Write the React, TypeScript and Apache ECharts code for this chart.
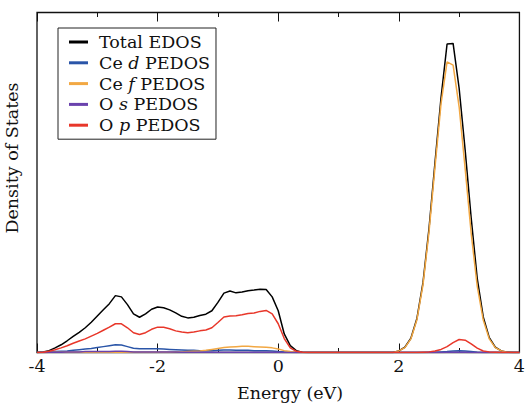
import React, { useEffect, useRef } from "react";
import * as echarts from "echarts";

// Energy grid (eV), sampled every 0.1 eV from -4 to 4
const energies: number[] = Array.from({ length: 81 }, (_, i) => +(-4 + i * 0.1).toFixed(1));

const zeros14 = [0, 0, 0, 0, 0, 0, 0, 0, 0, 0, 0, 0, 0, 0];

const totalEdos: number[] = [
  0, 0.02, 0.06, 0.15, 0.25, 0.38, 0.52, 0.65, 0.8, 0.98,
  1.18, 1.38, 1.58, 1.84, 1.8, 1.55, 1.25, 1.14, 1.25, 1.4,
  1.47, 1.45, 1.38, 1.28, 1.17, 1.12, 1.14, 1.2, 1.24, 1.35,
  1.62, 1.92, 1.99, 1.93, 1.96, 2.0, 2.02, 2.05, 2.04, 1.8,
  1.35, 0.6, 0.22, 0.06, 0.01, 0,
  ...zeros14,
  0.05, 0.17, 0.46, 1.1, 2.25, 4.0, 6.15, 8.25, 9.98, 10.0,
  8.55, 6.55, 4.35, 2.4, 1.15, 0.48, 0.17, 0.05, 0.01, 0, 0,
];

const ceD: number[] = [
  0, 0.01, 0.02, 0.03, 0.04, 0.05, 0.07, 0.09, 0.11, 0.13,
  0.16, 0.19, 0.22, 0.25, 0.24, 0.19, 0.14, 0.12, 0.12, 0.12,
  0.12, 0.11, 0.1, 0.09, 0.08, 0.07, 0.07, 0.06, 0.06, 0.06,
  0.07, 0.08, 0.08, 0.07, 0.07, 0.07, 0.06, 0.06, 0.06, 0.05,
  0.03, 0.02, 0.01, 0, 0, 0,
  ...zeros14,
  0, 0, 0, 0, 0, 0.01, 0.01, 0.02, 0.03, 0.05,
  0.06, 0.05, 0.03, 0.01, 0, 0, 0, 0, 0, 0, 0,
];

const ceF: number[] = [
  0, 0, 0.01, 0.01, 0.01, 0.01, 0.01, 0.01, 0.01, 0.01,
  0.01, 0.01, 0.01, 0.01, 0.01, 0.01, 0.01, 0.01, 0.01, 0.01,
  0.01, 0.01, 0.01, 0.02, 0.02, 0.03, 0.04, 0.05, 0.07, 0.1,
  0.13, 0.16, 0.18, 0.19, 0.2, 0.2, 0.19, 0.18, 0.17, 0.15,
  0.11, 0.06, 0.03, 0.01, 0, 0,
  ...zeros14,
  0.05, 0.16, 0.44, 1.06, 2.18, 3.89, 6.0, 8.05, 9.4, 9.3,
  7.95, 5.95, 3.85, 2.15, 1.05, 0.44, 0.16, 0.05, 0.01, 0, 0,
];

const oS: number[] = [
  0, 0, 0.01, 0.01, 0.01, 0.02, 0.02, 0.02, 0.03, 0.03,
  0.03, 0.03, 0.03, 0.04, 0.04, 0.03, 0.02, 0.02, 0.02, 0.02,
  0.02, 0.02, 0.02, 0.02, 0.01, 0.01, 0.01, 0.01, 0.01, 0.01,
  0.01, 0.01, 0.01, 0.01, 0.01, 0.01, 0.01, 0.01, 0.01, 0.01,
  0.01, 0, 0, 0, 0, 0,
  ...zeros14,
  0, 0, 0, 0, 0, 0, 0, 0, 0.01, 0.01,
  0.01, 0.01, 0, 0, 0, 0, 0, 0, 0, 0, 0,
];

const oP: number[] = [
  0, 0.01, 0.04, 0.09, 0.15, 0.22, 0.3, 0.37, 0.44, 0.53,
  0.62, 0.72, 0.82, 0.93, 0.93, 0.8, 0.64, 0.58, 0.64, 0.75,
  0.82, 0.82, 0.77, 0.7, 0.66, 0.64, 0.66, 0.7, 0.73, 0.8,
  0.97, 1.15, 1.18, 1.19, 1.22, 1.26, 1.28, 1.33, 1.36, 1.25,
  0.93, 0.45, 0.15, 0.04, 0.01, 0,
  ...zeros14,
  0, 0, 0, 0, 0.01, 0.02, 0.05, 0.1, 0.19, 0.32,
  0.42, 0.4, 0.28, 0.14, 0.05, 0.02, 0.01, 0, 0, 0, 0,
];

const seriesNames = ["Total EDOS", "Ce d PEDOS", "Ce f PEDOS", "O s PEDOS", "O p PEDOS"];
const seriesColors = ["#000000", "#2a55a8", "#f2a843", "#6a42ad", "#e8372a"];
const seriesValues = [totalEdos, ceD, ceF, oS, oP];

const xTicks = [-4, -2, 0, 2, 4];

const FONT = "DejaVu Serif";
const FS = 17.5;

export default function App() {
  const ref = useRef<HTMLDivElement>(null);

  useEffect(() => {
    document.body.style.margin = "0";
    if (!ref.current) return;
    const chart = echarts.init(ref.current, undefined, { renderer: "svg" });

    const xAxisBase = {
      type: "value" as const,
      min: xTicks[0],
      max: xTicks[xTicks.length - 1],
      interval: 2,
      axisLine: { show: false },
      axisTick: { show: true, inside: true, length: 9, lineStyle: { color: "#111", width: 1 } },
      minorTick: { show: true, splitNumber: 2, length: 4.5, lineStyle: { color: "#111", width: 1 } },
      splitLine: { show: false },
    };

    chart.setOption({
      animation: false,
      backgroundColor: "#ffffff",
      textStyle: { fontFamily: FONT },
      grid: {
        left: 37,
        right: 5,
        top: 12.5,
        bottom: 51.5,
        show: true,
        borderColor: "#111",
        borderWidth: 1.3,
        backgroundColor: "transparent",
      },
      legend: {
        orient: "vertical",
        left: 58,
        top: 28,
        padding: [4, 6, 4, 11],
        itemGap: 0.8,
        itemWidth: 19,
        itemHeight: 3,
        icon: "rect",
        borderColor: "#222",
        borderWidth: 1,
        backgroundColor: "#ffffff",
        data: seriesNames,
        formatter: (name: string) => name.replace(/ (d|f|s|p) /, " {i|$1} "),
        textStyle: {
          fontFamily: FONT,
          fontSize: FS,
          lineHeight: 20,
          color: "#111",
          padding: [0, 0, 0, 6],
          rich: {
            i: { fontFamily: FONT, fontSize: FS, lineHeight: 20, fontStyle: "italic", color: "#111" },
          },
        },
      },
      xAxis: [
        {
          ...xAxisBase,
          position: "bottom",
          axisLabel: {
            show: true,
            margin: 4,
            fontFamily: FONT,
            fontSize: FS,
            color: "#111",
            formatter: (v: number) => String(v),
          },
        },
        {
          ...xAxisBase,
          position: "top",
          axisLabel: { show: false },
        },
      ],
      yAxis: {
        type: "value",
        min: 0,
        max: 11,
        axisLine: { show: false },
        axisTick: { show: false },
        axisLabel: { show: false },
        splitLine: { show: false },
      },
      graphic: [
        {
          type: "text",
          x: 290,
          y: 393,
          style: {
            text: "Energy (eV)",
            fontFamily: FONT,
            fontSize: FS,
            fill: "#111",
            align: "center",
            verticalAlign: "middle",
          },
        },
        {
          type: "text",
          x: 12,
          y: 158,
          rotation: Math.PI / 2,
          style: {
            text: "Density of States",
            fontFamily: FONT,
            fontSize: FS,
            fill: "#111",
            align: "center",
            verticalAlign: "middle",
          },
        },
      ],
      series: seriesNames.map((name, k) => ({
        name,
        type: "line",
        xAxisIndex: 0,
        symbol: "none",
        showSymbol: false,
        color: seriesColors[k],
        lineStyle: { color: seriesColors[k], width: 1.5 },
        data: energies.map((e, i) => [e, seriesValues[k][i]]),
      })),
    });

    return () => chart.dispose();
  }, []);

  return <div ref={ref} style={{ width: 528, height: 404 }} />;
}
